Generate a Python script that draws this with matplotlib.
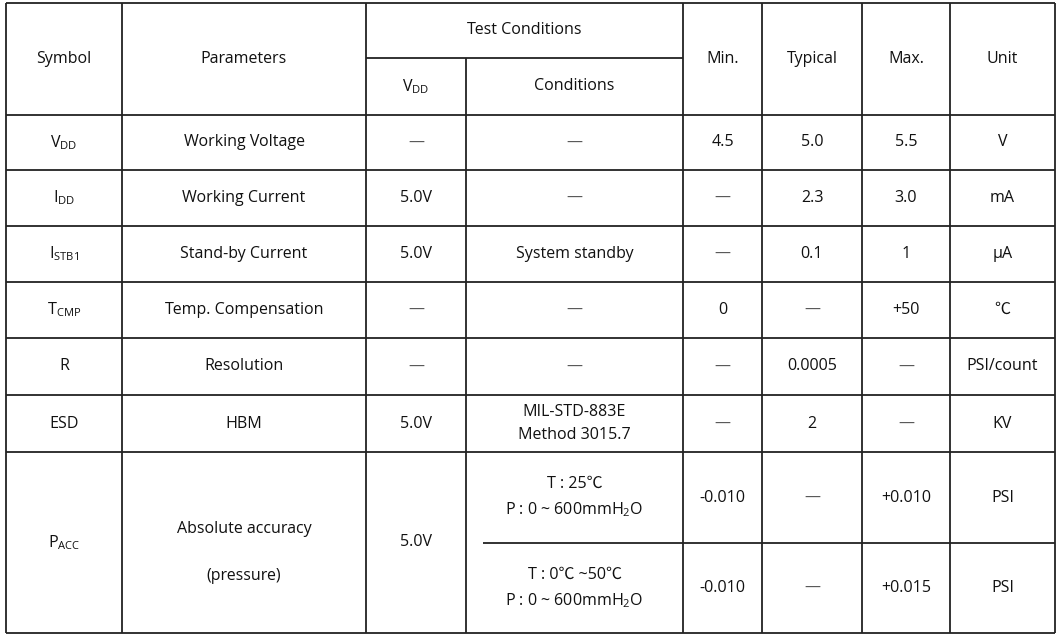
import matplotlib
matplotlib.use("Agg")
import matplotlib.pyplot as plt

plt.rcParams["font.family"] = ["Open Sans", "Noto Sans CJK SC", "DejaVu Sans"]

W, H = 1059, 634
col_x = [6, 122, 366, 466, 683, 762, 862, 950, 1055]
row_y = [3, 58, 115, 170, 226, 282, 338, 395, 452, 543, 633]

header = ["Symbol", "Parameters", "Test Conditions", "Min.", "Typical", "Max.", "Unit"]
sub_header = [r"V$_\mathregular{DD}$", "Conditions"]
D = "—"
symbols = [r"V$_\mathregular{DD}$", r"I$_\mathregular{DD}$", r"I$_\mathregular{STB1}$",
           r"T$_\mathregular{CMP}$", "R", "ESD"]
params = ["Working Voltage", "Working Current", "Stand-by Current",
          "Temp. Compensation", "Resolution", "HBM"]
vdd = [D, "5.0V", "5.0V", D, D, "5.0V"]
conds = [D, D, "System standby", D, D, "MIL-STD-883E\nMethod 3015.7"]
mins = ["4.5", D, D, "0", D, D]
typs = ["5.0", "2.3", "0.1", D, "0.0005", "2"]
maxs = ["5.5", "3.0", "1", "+50", D, D]
units = ["V", "mA", "μA", "℃", "PSI/count", "KV"]

last_symbol = r"P$_\mathregular{ACC}$"
last_param = "Absolute accuracy\n\n(pressure)"
last_vdd = "5.0V"
last_conds = ["T : 25℃\nP : 0 ~ 600mmH$_\\mathregular{2}$O",
              "T : 0℃ ~50℃\nP : 0 ~ 600mmH$_\\mathregular{2}$O"]
last_min = ["-0.010", "-0.010"]
last_typ = [D, D]
last_max = ["+0.010", "+0.015"]
last_unit = ["PSI", "PSI"]

fig = plt.figure(figsize=(W / 100, H / 100), dpi=100)
ax = fig.add_axes([0, 0, 1, 1])
ax.set_xlim(0, W)
ax.set_ylim(H, 0)
ax.axis("off")

lw = 1.3
def hline(y, x0, x1):
    ax.plot([x0, x1], [y, y], color="#222", lw=lw, solid_capstyle="butt")
def vline(x, y0, y1):
    ax.plot([x, x], [y0, y1], color="#222", lw=lw, solid_capstyle="butt")

for y in [row_y[0]] + row_y[2:9] + [row_y[10]]:
    hline(y, col_x[0], col_x[-1])
hline(row_y[1], col_x[2], col_x[4])
hline(row_y[9], 483, col_x[-1])
for i, x in enumerate(col_x):
    if i == 3:
        vline(x, row_y[1], row_y[-1])
    else:
        vline(x, row_y[0], row_y[-1])

fs = 11.5
def txt(x, y, s, color="#111"):
    if s == D:
        color = "#555"
    ax.text(x, y, s, ha="center", va="center", fontsize=fs, color=color,
            linespacing=1.6)
def cx(i, j=None):
    j = i + 1 if j is None else j
    return (col_x[i] + col_x[j]) / 2

hy = (row_y[0] + row_y[2]) / 2
txt(cx(0), hy, header[0]); txt(cx(1), hy, header[1])
txt(cx(2, 4), (row_y[0] + row_y[1]) / 2, header[2])
for k, h in enumerate(header[3:]):
    txt(cx(4 + k), hy, h)
sy = (row_y[1] + row_y[2]) / 2
txt(cx(2), sy, sub_header[0]); txt(cx(3), sy, sub_header[1])

for r in range(6):
    y = (row_y[2 + r] + row_y[3 + r]) / 2
    for c, vals in enumerate([symbols, params, vdd, conds, mins, typs, maxs, units]):
        txt(cx(c), y, vals[r])

ym = (row_y[8] + row_y[10]) / 2
txt(cx(0), ym, last_symbol)
txt(cx(1), ym + 10, last_param)
txt(cx(2), ym, last_vdd)
for k in range(2):
    y = (row_y[8 + k] + row_y[9 + k]) / 2
    txt(cx(3), y, last_conds[k])
    txt(cx(4), y, last_min[k]); txt(cx(5), y, last_typ[k])
    txt(cx(6), y, last_max[k]); txt(cx(7), y, last_unit[k])

fig.savefig("out.png", dpi=100)
